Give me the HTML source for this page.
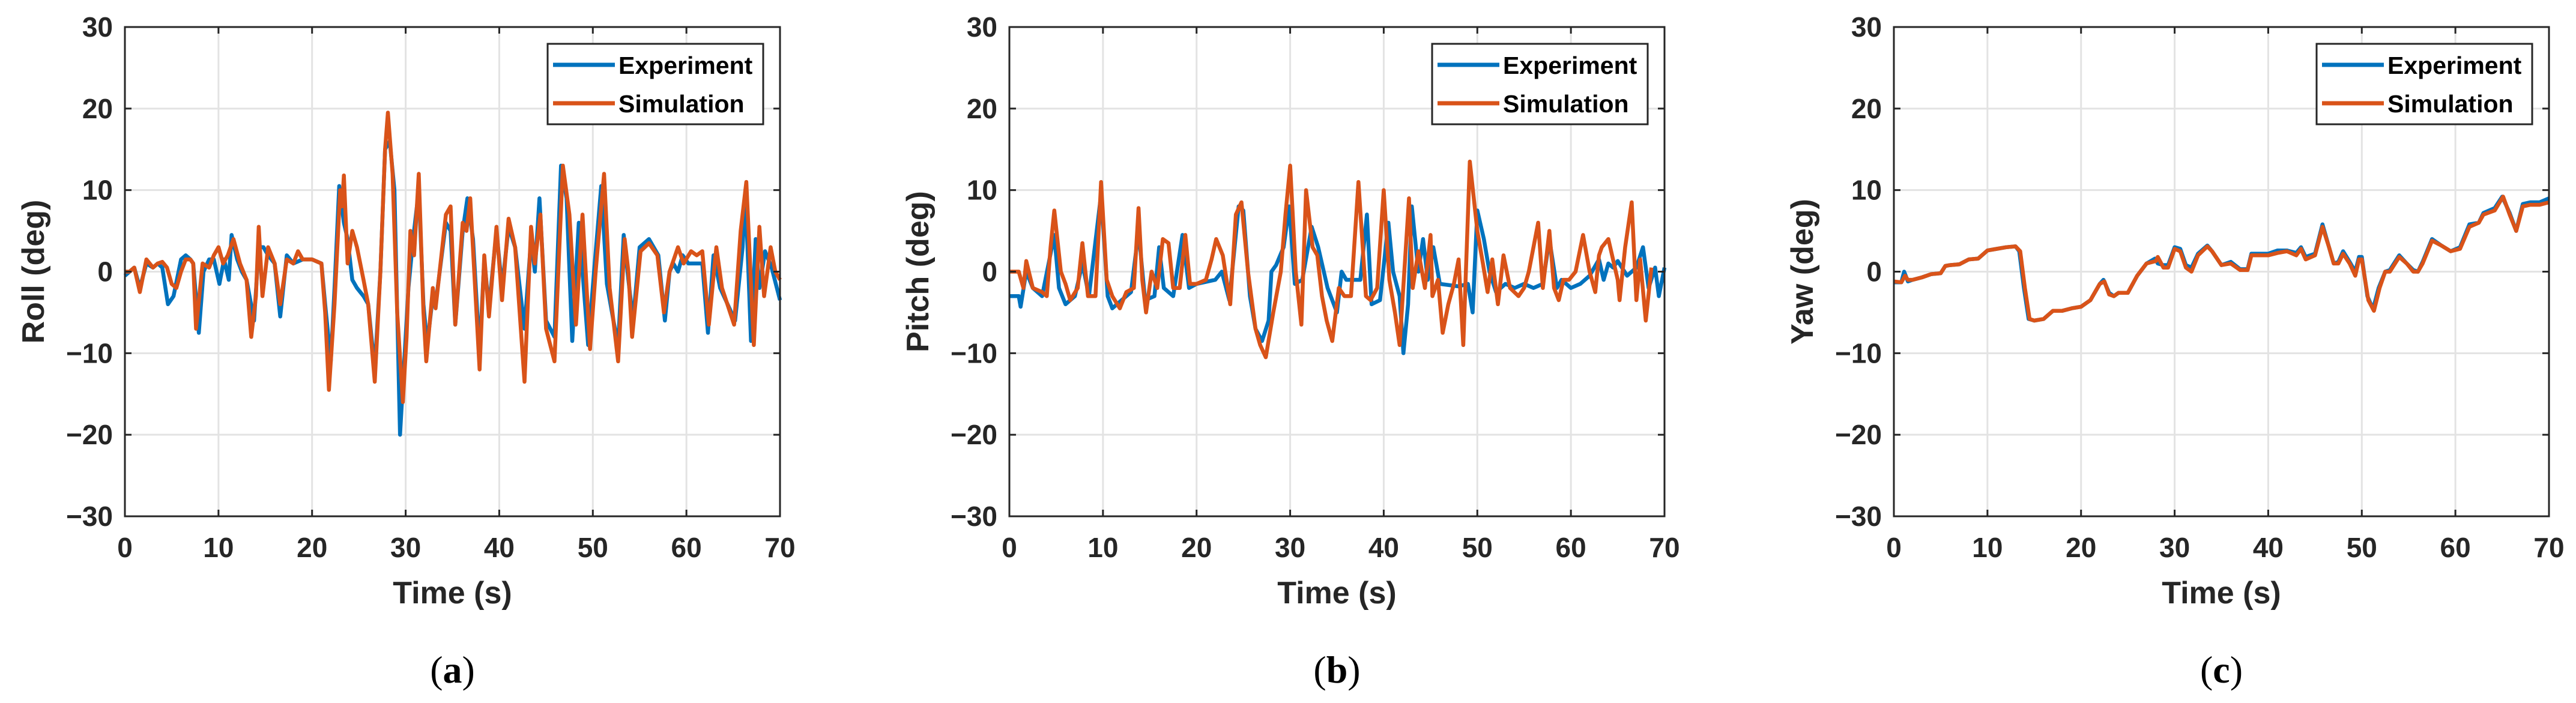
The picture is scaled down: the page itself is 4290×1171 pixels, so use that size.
<!DOCTYPE html>
<html><head><meta charset="utf-8"><style>
html,body{margin:0;padding:0;background:#fff;}
svg{display:block;}
</style></head><body>
<svg id="fig" width="4290" height="1171" viewBox="0 0 4290 1171" xmlns="http://www.w3.org/2000/svg"></svg>
<script>
// ---- data ----
const xTicks = [0,10,20,30,40,50,60,70];
const yTicks = [-30,-20,-10,0,10,20,30];
const panelLabels = ["Roll (deg)","Pitch (deg)","Yaw (deg)"];
const captions = ["a","b","c"];

const rollSimT = [0,0.5,1,1.6,2.3,3,3.5,4,4.5,5,
 5.5,6,6.5,7,7.3,7.6,8.3,9,9.5,10,
 10.5,11,11.6,12.3,13,13.5,14,14.3,14.7,15.3,
 16,16.6,17.3,18,18.5,19,20,21,21.4,21.8,
 22.4,23,23.2,23.4,23.8,24.3,24.8,25.5,26,26.7,
 27.3,27.8,28.1,28.6,29.1,29.7,30.1,30.5,30.9,31.4,
 31.9,32.2,32.9,33.2,34.3,34.8,35.3,36.1,36.5,36.9,
 37.9,38.4,38.9,39.7,40.3,41,41.7,42.7,43.4,43.8,
 44.4,45,45.9,46.8,47.5,48.2,48.9,49.7,50.3,51.2,
 51.8,52.7,53.4,53.8,54.2,55.1,56,56.9,57.6,58.2,
 59.1,59.7,60.5,61.1,61.7,62.4,63.2,63.8,65.1,65.8,
 66.4,67.2,67.8,68.3,69,69.5,70];
const rollSimV = [0,0,0.5,-2.5,1.5,0.5,1,1.2,0.5,-1.5,
 -2,0,1.5,1.5,1,-7,1,0.5,2,3,
 1,2,4,1,-1,-8,-3,5.5,-3,3,
 1,-4,1.5,1,2.5,1.5,1.5,1,-5,-14.5,
 -4,10,8,11.8,1,5,3,-1,-4,-13.5,
 0,15,19.5,12,-5,-16,-8,5,2,12,
 -5,-11,-2,-4.5,7,8,-6.5,6,5,9,
 -12,2,-5.5,5.5,-3.5,6.5,3,-13.5,5.5,1,
 7,-7,-11,13,7,-6.5,7,-9.5,0,12,
 -2,-11,4,0,-8,2.5,3.5,2,-5,0,
 3,1,2.5,2,2.5,-6.5,3,-2,-6.5,5,
 11,-9,5.5,-3,3,0,-1];
const rollExpT = [0,0.5,1,1.6,2.3,3,3.5,4,4.6,5.2,
 6,6.5,7,7.3,7.9,8.4,9,9.5,10.1,10.6,
 11.1,11.4,12,12.5,13,13.8,14.3,14.8,15.3,16,
 16.6,17.3,18,19,20,21,21.4,22,22.4,22.9,
 23.4,23.8,24.3,24.8,25.5,26,26.7,27.3,27.8,28.3,
 28.8,29.4,29.9,30.3,30.8,31.4,31.9,32.3,32.9,33.2,
 34.3,34.8,35.3,36.1,36.6,37.2,37.9,38.4,38.9,39.7,
 40.3,41,41.7,42.7,43.4,43.8,44.3,45,45.9,46.6,
 47.2,47.8,48.5,49.5,50.2,50.9,51.5,52.2,52.7,53.3,
 53.8,54.3,55,56,57,57.7,58.2,58.6,59.1,59.6,
 60.2,61,61.7,62.3,62.9,63.6,65.2,66,66.3,66.9,
 67.4,67.8,68.4,69.1,70];
const rollExpV = [-0.5,0,0.5,-2,1,0.5,1,0.5,-4,-3,
 1.5,2,1.5,1,-7.5,0,1.5,1.5,-1.5,1.5,
 -1,4.5,1.5,0,-1,-6,3,3,2,1,
 -5.5,2,1,1.5,1.5,1,-4,-11,-2,10.5,
 6,4,-1,-2,-3,-4,-12,0,15,16,
 10,-20,-10,-2,4,10,-4,-9,-3,-4,
 6,5,-6.5,5,9,4,-10,1.5,-4.5,5,
 -2,5.5,3,-7,4,0,9,-6,-8,13,
 9,-8.5,6,-9,1,10.5,-1.5,-6,-9,4.5,
 -1,-6,3,4,2,-6,0,1,0,2,
 1,1,1,-7.5,2,-2,-6,3,10,-8.5,
 4,-2,2.5,0.5,-3.5];

const pitchSimT = [0,1,1.5,1.8,2.5,3.5,4,4.4,4.8,5.5,6,6.5,7.3,7.8,8.4,9.2,9.8,10.4,11,11.8,12.5,13.3,13.8,14.2,14.6,15.2,15.8,16.4,17,17.5,18.2,18.8,19.3,20,21,21.6,22.1,22.8,23.6,24.2,24.8,25.5,26.3,26.8,27.4,28.2,29,29.5,30,30.6,31.2,31.7,32.4,32.9,33.4,33.9,34.5,35.2,35.8,36.5,37.3,38.1,38.6,39.3,40,40.6,41.2,41.7,42.2,42.7,43.1,43.7,44.4,45,45.2,45.8,46.3,46.9,47.5,48,48.5,49.2,50,50.6,51.1,51.6,52.2,52.8,53.5,54.4,55,55.5,56.5,57,57.7,58.2,58.7,59.2,59.8,60.5,61.3,62,62.6,63,63.3,64,65,65.2,65.8,66.5,67,67.4,68,68.6,69.3,70];
const pitchSimV = [0,0,-2,1.3,-2,-2.5,-3,3,7.5,0,-1.5,-3.5,-2,3.5,-3,-3,11,-1,-3,-4.5,-2.5,-2,7.8,-1,-5,0,-2,4,3.5,-2,-2,4.5,-1.5,-1.5,-1,1.5,4,2,-4,7,8.5,0,-7,-9,-10.5,-5,0,7,13,0,-6.5,10,3,2,-3,-6,-8.5,-2,-3,-3,11,-3,-3.5,-2,10,-1,-5,-9,0,9,-2,2.5,-2,4.5,-3,-1,-7.5,-4,-1.5,1.5,-9,13.5,5,1,-2.5,1.5,-4,2,-2,-3,-2,0,6,-2,5,-2,-3.5,-1,-1,0,4.5,0,-2.5,2,3,4,-1,-3.5,3,8.5,-3.5,1.5,-6,0.5];
const pitchExpT = [0,1,1.2,1.8,2.5,3.5,4.8,5.3,6,7,7.8,8.5,9.8,10.5,11,12,13,13.8,14.5,15.5,16,16.5,17.5,18.5,19.2,20,22,22.7,23.5,24.5,25,25.7,26.3,27,27.7,28,28.5,29.3,29.9,30.5,31.3,32.3,33,34,35,35.5,36,37.5,38.2,38.7,39.6,40.5,41,41.7,42.1,42.6,43,43.7,44.2,44.7,45.3,46,48,49,49.5,50,50.7,51.3,52,53,54,55,56,57,57.7,58.5,59,60,61,62,63,63.5,64,64.5,65,66,67,67.7,68.3,69,69.4,70];
const pitchExpV = [-3,-3,-4.3,0,-2,-3,4.5,-2,-4,-3,1,-3,9.5,-3,-4.5,-3.5,-2.5,5,-3.5,-3,3,-2,-3,4.5,-2,-1.5,-1,0,-3.5,8,7.5,-3,-7,-8.5,-6,0,0.8,3,8,-1.5,-1,5.5,3,-2,-5,0,-1,-1,7,-4,-3.5,6,0,-3,-10,-4,8,0,4,-1,3,-1.5,-1.8,-1.5,-5,7.5,4,0,-2.5,-1.5,-2,-1.5,-2,-1.5,4,-2,-1,-2,-1.5,-0.5,1.5,-1,1,0.5,1.3,-0.5,0.5,3,-2,0.5,-3,0.5];

const yawSimT = [0,0.8,1.2,1.5,2,3,4,5,5.5,6,7,8,9,10,11,12,13,13.5,14,14.5,15,16,17,18,19,20,21,22,22.5,23,23.5,24,25,26,27,28,28.2,28.8,29.3,30,30.6,31.2,31.8,32.5,33.5,34,35,36,37,37.8,38.2,39,40,41,42,43,43.5,44,45,45.8,46.5,47,47.5,48,48.7,49.3,49.7,50,50.7,51.3,51.9,52.5,53,54,54.8,55.5,56,56.5,57.5,58.5,59.5,60.5,61.5,62.5,63,64.2,65.1,65.8,66.5,67.2,68,69,70];
const yawSimV = [-1.2,-1.3,-0.5,-1,-1,-0.7,-0.3,-0.2,0.7,0.8,0.9,1.5,1.6,2.6,2.8,3,3.1,2.5,-2,-5.8,-6,-5.8,-4.8,-4.8,-4.5,-4.3,-3.5,-1.5,-1.2,-2.8,-3,-2.6,-2.6,-0.5,1,1.3,1.8,0.5,0.5,2.8,2.5,0.5,0,2,3.1,2.5,0.8,1,0.2,0.2,2,2,2,2.3,2.5,2,2.8,1.5,2,5.5,3,1,1,2.2,1,-0.5,1.5,1.5,-3.5,-4.8,-2,0,0,1.8,1,0,0,1,3.8,3.2,2.5,2.8,5.5,6,7,7.5,9.2,7,5,8,8.2,8.2,8.5];
const yawExpT = [0,0.8,1.1,1.5,2,3,4,5,5.5,6,7,8,9,10,11,12,13,13.4,13.9,14.4,15,16,17,18,19,20,21,22,22.4,23,23.5,24,25,26,27,27.9,28.2,28.8,29.3,30,30.6,31.2,31.8,32.5,33.5,34,35,36,37,37.8,38.2,39,40,41,42,43,43.5,44,45,45.8,46.5,47,47.5,48,48.7,49.3,49.7,50,50.6,51.2,51.8,52.5,53,54,54.8,55.5,56,56.5,57.5,58.5,59.5,60.5,61.5,62.5,63,64.2,65,65.8,66.5,67.2,68,69,70];
const yawExpV = [-1.3,-1.3,0,-1.2,-1,-0.7,-0.3,-0.2,0.7,0.8,0.9,1.5,1.6,2.6,2.8,3,3.1,2.5,-2,-5.8,-6,-5.8,-4.8,-4.8,-4.5,-4.3,-3.5,-1.5,-1,-2.6,-3,-2.6,-2.6,-0.5,1,1.6,1,0.8,0.8,3,2.8,0.8,0.5,2.2,3.2,2.5,0.8,1.2,0.3,0.3,2.2,2.2,2.2,2.6,2.6,2.3,3,1.8,2.2,5.8,3,1,1.2,2.5,1.2,0,1.8,1.8,-3,-4.6,-2,0,0.2,2,1,0.2,0,1.2,4,3.2,2.5,3,5.8,6,7.2,7.8,9.2,7.2,5,8.3,8.5,8.5,9];

const panels = [
  {lbl:panelLabels[0], cap:captions[0], simT:rollSimT, simV:rollSimV, expT:rollExpT, expV:rollExpV},
  {lbl:panelLabels[1], cap:captions[1], simT:pitchSimT, simV:pitchSimV, expT:pitchExpT, expV:pitchExpV},
  {lbl:panelLabels[2], cap:captions[2], simT:yawSimT, simV:yawSimV, expT:yawExpT, expV:yawExpV}
];

// ---- drawing ----
const NS = "http://www.w3.org/2000/svg";
const svg = document.getElementById("fig");
function mk(tag, attrs, parent){ const e=document.createElementNS(NS,tag); for(const k in attrs) e.setAttribute(k,attrs[k]); (parent||svg).appendChild(e); return e; }
const lefts = [208,1681,3154];
const W = 1091, TOP = 45, BOT = 860;
const fontS = '"Liberation Sans", Arial, sans-serif';

panels.forEach((p,i)=>{
  const L = lefts[i], R = L+W;
  const g = mk("g",{});
  
  
  const xs = t => L + (t/70)*W;
  const ys = v => TOP + (30 - v)/60*(BOT-TOP);
  xTicks.forEach(t=>{ if(t>0&&t<70){ const l=mk("line",{x1:xs(t),x2:xs(t),y1:TOP,y2:BOT,stroke:"#e3e3e3","stroke-width":3},g);
      }});
  yTicks.forEach(v=>{ if(v>-30&&v<30){ const l=mk("line",{x1:L,x2:R,y1:ys(v),y2:ys(v),stroke:"#e3e3e3","stroke-width":3},g);
      }});
  const n = (T,V)=>Math.min(T.length,V.length);
  const path = (T,V)=> T.slice(0,n(T,V)).map((t,k)=>(k?"L":"M")+xs(t).toFixed(1)+","+ys(V[k]).toFixed(1)).join("");
  const pe = mk("path",{d:path(p.expT,p.expV),fill:"none",stroke:"#0072BD","stroke-width":6.5,"stroke-linejoin":"round"},g);
   
  const ps = mk("path",{d:path(p.simT,p.simV),fill:"none",stroke:"#D95319","stroke-width":6.5,"stroke-linejoin":"round"},g);
   
  const box = mk("rect",{x:L,y:TOP,width:W,height:BOT-TOP,fill:"none",stroke:"#262626","stroke-width":3},g);
   
  xTicks.forEach(t=>{
    mk("line",{x1:xs(t),x2:xs(t),y1:BOT,y2:BOT-11,stroke:"#262626","stroke-width":3},g);
    mk("line",{x1:xs(t),x2:xs(t),y1:TOP,y2:TOP+11,stroke:"#262626","stroke-width":3},g);
    const tx = mk("text",{x:xs(t),y:928,"text-anchor":"middle","font-family":fontS,"font-weight":"bold","font-size":46,fill:"#262626"},g);
    tx.textContent = t;
     
  });
  yTicks.forEach(v=>{
    mk("line",{x1:L,x2:L+11,y1:ys(v),y2:ys(v),stroke:"#262626","stroke-width":3},g);
    mk("line",{x1:R,x2:R-11,y1:ys(v),y2:ys(v),stroke:"#262626","stroke-width":3},g);
    const ty = mk("text",{x:L-20,y:ys(v)+16,"text-anchor":"end","font-family":fontS,"font-weight":"bold","font-size":46,fill:"#262626"},g);
    ty.textContent = v<0 ? "\u2212"+Math.abs(v) : String(v);
     
  });
  const xt = mk("text",{x:L+W/2,y:1005,"text-anchor":"middle","font-family":fontS,"font-weight":"bold","font-size":52,fill:"#262626"},g);
  xt.textContent = "Time (s)";
   
  const cy = (TOP+BOT)/2, cx = L-153;
  const yt = mk("text",{x:cx,y:cy,transform:`rotate(-90 ${cx} ${cy})`,dy:18,"text-anchor":"middle","font-family":fontS,"font-weight":"bold","font-size":52,fill:"#262626"},g);
  yt.textContent = p.lbl;
   
  const lg = mk("g",{},g);
   
  mk("rect",{x:L+704,y:73,width:359,height:134,fill:"#fff",stroke:"#262626","stroke-width":3},lg);
  [["Experiment","#0072BD",108],["Simulation","#D95319",172]].forEach(e=>{
    const le = mk("g",{},lg);
     
    mk("line",{x1:L+713,x2:L+816,y1:e[2],y2:e[2],stroke:e[1],"stroke-width":7},le);
    const t = mk("text",{x:L+822,y:e[2]+15,"font-family":fontS,"font-weight":"bold","font-size":41,fill:"#000"},le);
    t.textContent = e[0];
  });
  const cap = mk("text",{x:L+W/2,y:1137,"text-anchor":"middle","font-family":'"Liberation Serif", "Times New Roman", serif',"font-size":64,fill:"#000"},g);
   
  const o1 = document.createElementNS(NS,"tspan"); o1.textContent="("; cap.appendChild(o1);
  const o2 = document.createElementNS(NS,"tspan"); o2.setAttribute("font-weight","bold"); o2.textContent=p.cap; cap.appendChild(o2);
  const o3 = document.createElementNS(NS,"tspan"); o3.textContent=")"; cap.appendChild(o3);
});
</script>
</body></html>
